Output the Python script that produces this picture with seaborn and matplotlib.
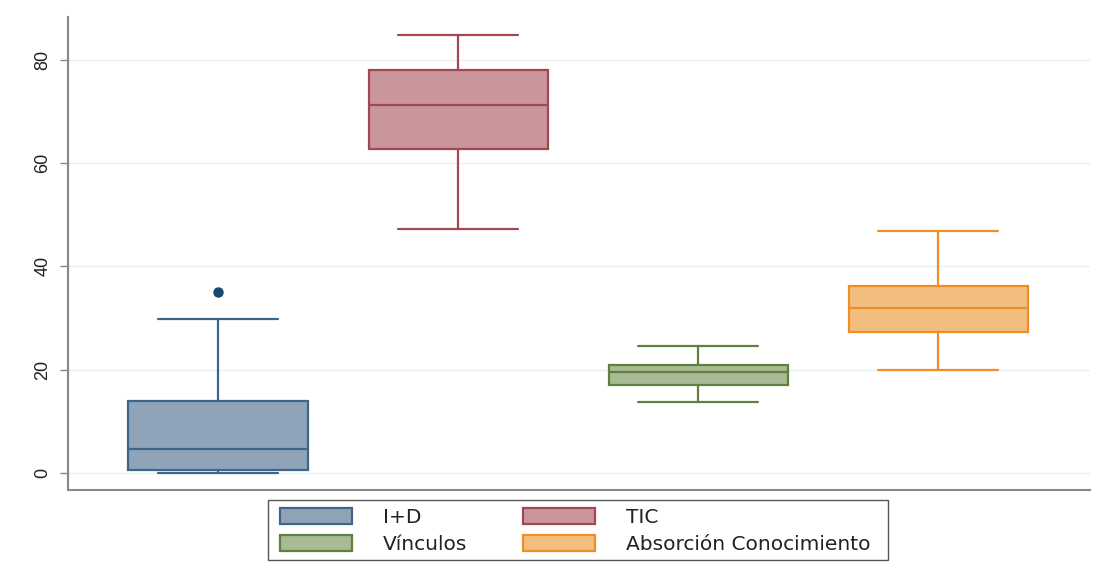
import matplotlib
matplotlib.use("Agg")
import matplotlib.pyplot as plt
from matplotlib.patches import Patch, Rectangle
import seaborn as sns

# Summary statistics
categories = ["I+D", "TIC", "Vínculos", "Absorción Conocimiento"]
whisker_low = [0.0, 47.3, 13.8, 20.0]
q1 = [0.6, 62.8, 17.0, 27.3]
median = [4.6, 71.3, 19.6, 32.0]
q3 = [13.9, 78.1, 20.9, 36.2]
whisker_high = [29.8, 84.8, 24.6, 46.9]
outliers = [[35.1], [], [], []]
yticks = [0, 20, 40, 60, 80]

face_colors = ["#8FA4B9", "#C9969B", "#A9BB95", "#F1BE80"]
edge_colors = ["#3F6589", "#A24853", "#5E8040", "#EE8F26"]

sns.set_style("white")
plt.rcParams["font.family"] = ["Liberation Sans", "DejaVu Sans"]

fig = plt.figure(figsize=(11.07, 5.83), dpi=100)
ax = fig.add_axes([0.0614, 0.1595, 0.9236, 0.8115])

stats = []
for i, c in enumerate(categories):
    stats.append(dict(label=c, whislo=whisker_low[i], q1=q1[i], med=median[i],
                      q3=q3[i], whishi=whisker_high[i], fliers=outliers[i]))

positions = list(range(1, len(categories) + 1))
for i, st in enumerate(stats):
    ax.bxp([st], positions=[positions[i]], widths=0.746, capwidths=0.5,
           patch_artist=True, showfliers=True,
           boxprops=dict(facecolor=face_colors[i], edgecolor=edge_colors[i], linewidth=1.6),
           medianprops=dict(color=edge_colors[i], linewidth=1.6),
           whiskerprops=dict(color=edge_colors[i], linewidth=1.6),
           capprops=dict(color=edge_colors[i], linewidth=1.6),
           flierprops=dict(marker="o", markerfacecolor="#1A476F", markeredgecolor="#1A476F",
                           markersize=6.5))

ax.set_xlim(0.375, 4.633)
ax.set_ylim(-3.3, 88.3)
ax.set_yticks(yticks)
ax.set_yticklabels([str(t) for t in yticks], rotation=90, va="center", fontsize=13, color="#222222")
ax.set_xticks([])
ax.tick_params(axis="y", length=6, width=1.0, color="#888888", pad=6, left=True)
ax.grid(axis="y", color="#EAF1F2", linewidth=1.0)
ax.set_axisbelow(True)
for s in ["top", "right"]:
    ax.spines[s].set_visible(False)
for s in ["left", "bottom"]:
    ax.spines[s].set_color("#888888")
    ax.spines[s].set_linewidth(1.5)

# legend frame (Stata-like, drawn as a figure rectangle)
fig.patches.append(Rectangle((0.2421, 0.0395), 0.5601, 0.1029, transform=fig.transFigure,
                             fill=False, edgecolor="#555555", linewidth=1.0))

handles = [Patch(facecolor=face_colors[i], edgecolor=edge_colors[i], linewidth=1.6, label=categories[i])
           for i in range(len(categories))]
order = [0, 2, 1, 3]
leg = fig.legend([handles[i] for i in order], [categories[i] for i in order],
                 ncol=2, loc="center", bbox_to_anchor=(0.5194, 0.0892),
                 prop=dict(family="DejaVu Sans", size=14.5),
                 handlelength=3.58, handleheight=0.85, handletextpad=1.54,
                 columnspacing=2.74, labelspacing=0.37, frameon=False, borderpad=0.3)
for t in leg.get_texts():
    t.set_color("#222222")

fig.savefig("out.png", dpi=100)
